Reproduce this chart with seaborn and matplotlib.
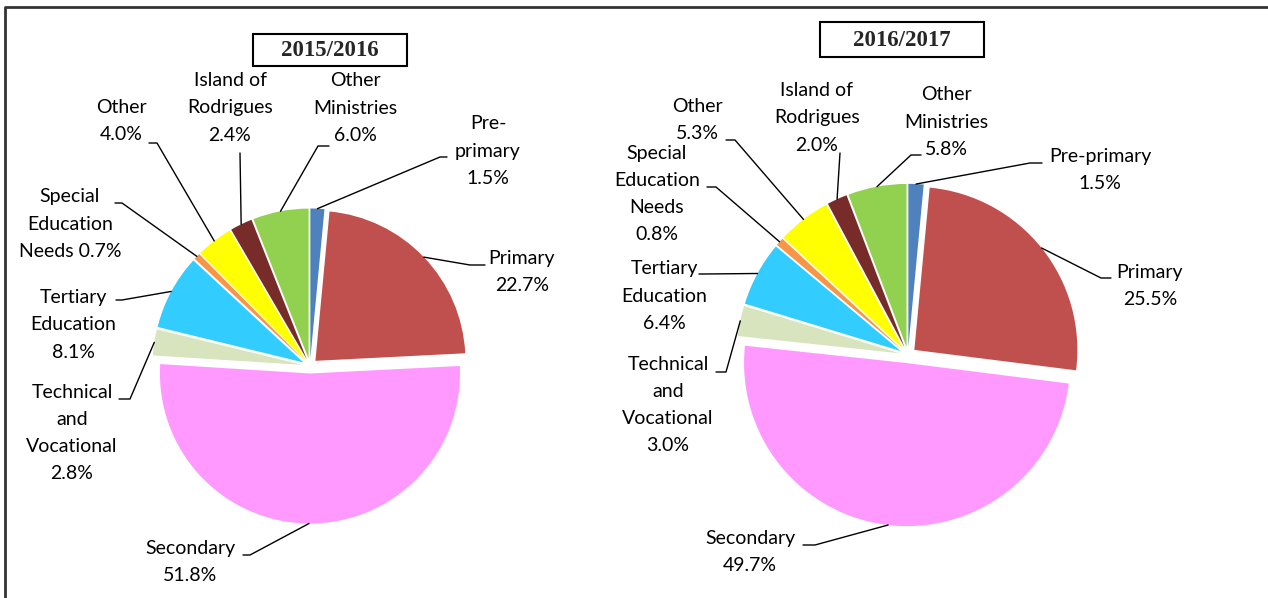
import numpy as np
import matplotlib
matplotlib.use("Agg")
import matplotlib.pyplot as plt
import seaborn as sns
from matplotlib.patches import Rectangle

# donnees (parts du budget en %)
categories = ["Pre-primary", "Primary", "Secondary", "Technical and Vocational",
              "Tertiary Education", "Special Education Needs", "Other",
              "Island of Rodrigues", "Other Ministries"]
share_1516 = [1.5, 22.7, 51.8, 2.8, 8.1, 0.7, 4.0, 2.4, 6.0]
share_1617 = [1.5, 25.5, 49.7, 3.0, 6.4, 0.8, 5.3, 2.0, 5.8]

# libelles tels qu'ecrits sur le graphique (coupures de ligne)
names_1516 = ["Pre-\nprimary\n", "Primary\n", "Secondary\n",
              "Technical\nand\nVocational\n", "Tertiary\nEducation\n",
              "Special\nEducation\nNeeds ", "Other\n", "Island of\nRodrigues\n",
              "Other\nMinistries\n"]
names_1617 = ["Pre-primary\n", "Primary\n", "Secondary\n",
              "Technical\nand\nVocational\n", "Tertiary\nEducation\n",
              "Special\nEducation\nNeeds\n", "Other\n", "Island of\nRodrigues\n",
              "Other\nMinistries\n"]

colours = ["#4F81BD", "#C0504D", "#FF99FF", "#D7E4BD", "#33CCFF",
           "#F79646", "#FFFF00", "#772C2A", "#92D050"]

sns.set_theme(style="white")
plt.rcParams['font.family'] = ['Lato', 'DejaVu Sans']

# mise en page (pixels, y vers le bas)
layout = {
    "2015/2016": dict(
        box=(253, 34, 154, 32), centre=(310, 366), radius=150,
        text=[(488, 151), (522, 272), (190, 562), (72, 433), (73, 325),
              (70, 224), (121, 121), (230, 108), (355, 108)],
        elbow=[[(440, 157), (447, 157)], [(470, 265), (485, 265)],
               [(250, 555), (243, 555)], [(130, 399), (119, 399)],
               [(122, 300), (116, 300)], [(122, 203), (115, 203)],
               [(157, 143), (149, 143)], [(240, 153)],
               [(318, 146), (329, 146)]]),
    "2016/2017": dict(
        box=(820, 22, 164, 35), centre=(908, 355), radius=163,
        text=[(1100, 170), (1150, 286), (750, 552), (668, 405), (664, 296),
              (657, 194), (697, 120), (817, 118), (946, 122)],
        elbow=[[(1030, 163), (1042, 163)], [(1101, 278), (1111, 278)],
               [(815, 545), (803, 545)], [(726, 372), (716, 372)],
               [(704, 274), (699, 274)], [(716, 187), (707, 187)],
               [(735, 140), (726, 140)], [(840, 153)],
               [(911, 155), (921, 155)]]),
}

fig = plt.figure(figsize=(12.68, 5.98), dpi=100)
ax = fig.add_axes([0, 0, 1, 1])


def camembert(ax, valeurs, noms, cfg, titre):
    '''
    dessine un camembert eclate avec ses etiquettes et lignes de rappel
    '''
    r = cfg["radius"]
    wedges, _ = ax.pie(valeurs, colors=colours, center=cfg["centre"],
                       radius=r, startangle=-90, counterclock=True,
                       explode=[0.05 * r] * len(valeurs),
                       wedgeprops=dict(linewidth=0))
    for w, nom, v, (tx, ty), pts in zip(wedges, noms, valeurs,
                                        cfg["text"], cfg["elbow"]):
        mid = np.deg2rad((w.theta1 + w.theta2) / 2)
        ax0 = w.center[0] + w.r * np.cos(mid)
        ay0 = w.center[1] + w.r * np.sin(mid)
        xs = [ax0] + [p[0] for p in pts]
        ys = [ay0] + [p[1] for p in pts]
        ax.plot(xs, ys, color="black", lw=1.0)
        ax.text(tx, ty, f"{nom}{v:.1f}%", ha="center", va="center",
                fontsize=14, linespacing=1.72, color="black")
    bx, by, bw, bh = cfg["box"]
    ax.add_patch(Rectangle((bx, by), bw, bh, fill=False, lw=1.5,
                           edgecolor="black"))
    ax.text(bx + bw / 2, by + bh / 2 + 1, titre, ha="center", va="center",
            fontsize=16.5, fontweight="bold", family="Liberation Serif")


camembert(ax, share_1516, names_1516, layout["2015/2016"], "2015/2016")
camembert(ax, share_1617, names_1617, layout["2016/2017"], "2016/2017")

# cadre
ax.plot([5, 5, 1268], [598, 7, 7], color="#333333", lw=2)

ax.set_aspect("equal", adjustable="box")
ax.set_xlim(0, 1268)
ax.set_ylim(598, 0)
ax.axis("off")

plt.savefig("out.png", dpi=100)
